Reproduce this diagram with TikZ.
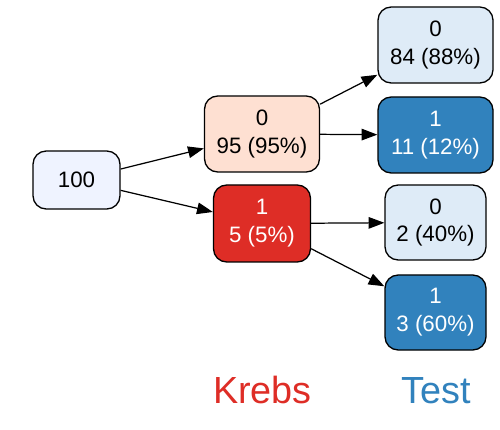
\documentclass[tikz,border=0pt]{standalone}
\usepackage{fontspec}
\setmainfont{Liberation Sans}
\usetikzlibrary{arrows.meta}
\definecolor{rootfill}{HTML}{EFF3FF}
\definecolor{redlight}{HTML}{FEE0D2}
\definecolor{reddark}{HTML}{DE2D26}
\definecolor{bluelight}{HTML}{DEEBF7}
\definecolor{bluedark}{HTML}{3182BD}
\begin{document}
\begin{tikzpicture}[
    box/.style={draw, line width=0.75pt, rounded corners=7.5pt, align=center, inner sep=0pt,
      font=\fontsize{12.7}{15.9}\selectfont},
    edge/.style={line width=0.7pt, -{Triangle[length=9pt,width=6.6pt]}},
    title/.style={anchor=base, font=\fontsize{21.5}{25}\selectfont}]
  \useasboundingbox (0,0) rectangle (10,8.58);
  % root and first split
  \node[box, fill=rootfill, minimum width=1.74cm, minimum height=1.16cm] (root) at (1.53,4.98) {100};
  \node[box, fill=redlight, minimum width=2.30cm, minimum height=1.52cm] (k0) at (5.24,5.90) {0\\95 (95\%)};
  \node[box, fill=reddark, text=white, minimum width=1.94cm, minimum height=1.54cm] (k1) at (5.24,4.11) {1\\5 (5\%)};
  % second split
  \node[box, fill=bluelight, minimum width=2.30cm, minimum height=1.52cm] (k0t0) at (8.71,7.68) {0\\84 (88\%)};
  \node[box, fill=bluedark, text=white, minimum width=2.30cm, minimum height=1.52cm] (k0t1) at (8.71,5.88) {1\\11 (12\%)};
  \node[box, fill=bluelight, minimum width=2.02cm, minimum height=1.50cm] (k1t0) at (8.71,4.13) {0\\2 (40\%)};
  \node[box, fill=bluedark, text=white, minimum width=2.02cm, minimum height=1.50cm] (k1t1) at (8.71,2.33) {1\\3 (60\%)};
  \draw[edge] (root) -- (k0);
  \draw[edge] (root) -- (k1);
  \draw[edge] (k0) -- (k0t0);
  \draw[edge] (k0) -- (k0t1);
  \draw[edge] (k1) -- (k1t0);
  \draw[edge] (k1) -- (k1t1);
  % column titles
  \node[title, text=reddark] (krebs) at (5.25,0.52) {Krebs};
  \node[title, text=bluedark] (test) at (8.72,0.52) {Test};
\end{tikzpicture}
\end{document}
